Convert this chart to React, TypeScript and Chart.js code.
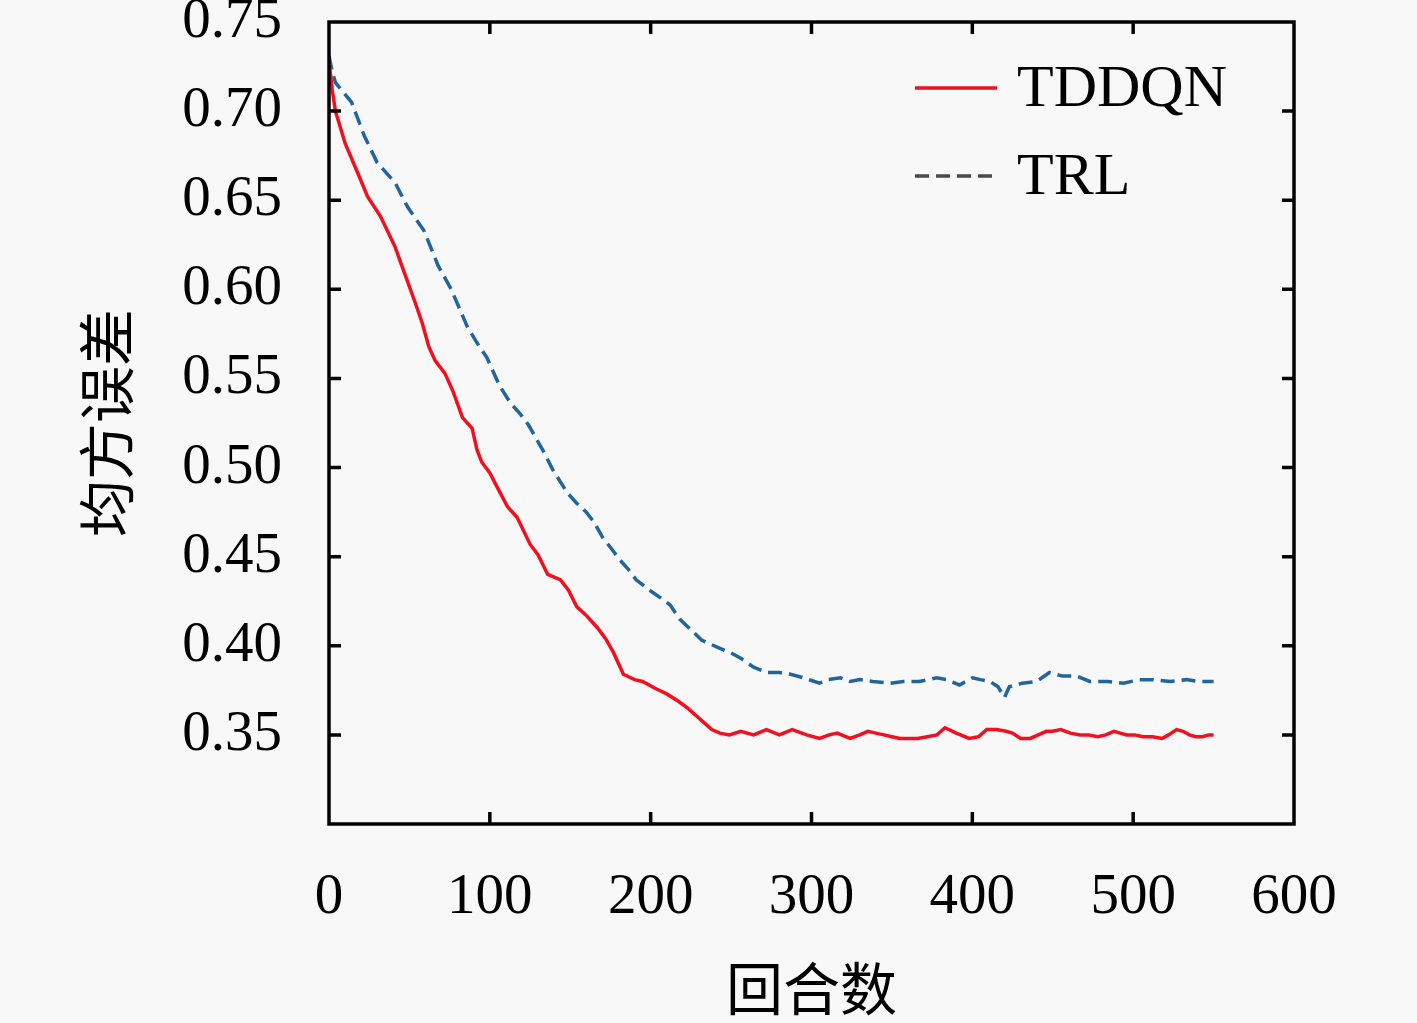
import { useRef, useEffect } from 'react'
import { Chart, registerables } from 'chart.js'
import type { Plugin } from 'chart.js'

Chart.register(...registerables)

// episode index (x) and mean squared error (y)
const tddqnX = [0, 2, 4, 10, 18, 24, 32, 41, 47, 53, 58, 62, 66, 72, 77, 83, 89, 92, 95, 100, 104, 111, 117, 125, 130, 136, 144, 149, 154, 160, 167, 172, 177, 183, 190, 195, 203, 210, 217, 223, 228, 233, 238, 243, 249, 256, 264, 272, 280, 288, 297, 305, 311, 316, 324, 330, 335, 340, 345, 350, 355, 360, 366, 372, 378, 383, 390, 398, 404, 409, 415, 421, 425, 430, 436, 441, 446, 450, 455, 461, 467, 472, 478, 483, 488, 492, 496, 501, 506, 512, 518, 522, 527, 531, 535, 539, 543, 547, 550]
const tddqnY = [0.728, 0.712, 0.700, 0.682, 0.665, 0.652, 0.641, 0.624, 0.609, 0.594, 0.581, 0.568, 0.560, 0.553, 0.543, 0.528, 0.522, 0.510, 0.503, 0.497, 0.490, 0.478, 0.472, 0.457, 0.451, 0.440, 0.437, 0.431, 0.422, 0.417, 0.410, 0.404, 0.396, 0.384, 0.381, 0.380, 0.376, 0.373, 0.369, 0.365, 0.361, 0.357, 0.353, 0.351, 0.350, 0.352, 0.350, 0.353, 0.350, 0.353, 0.350, 0.348, 0.350, 0.351, 0.348, 0.350, 0.352, 0.351, 0.350, 0.349, 0.348, 0.348, 0.348, 0.349, 0.350, 0.354, 0.351, 0.348, 0.349, 0.353, 0.353, 0.352, 0.351, 0.348, 0.348, 0.350, 0.352, 0.352, 0.353, 0.351, 0.350, 0.350, 0.349, 0.350, 0.352, 0.351, 0.350, 0.350, 0.349, 0.349, 0.348, 0.350, 0.353, 0.352, 0.350, 0.349, 0.349, 0.350, 0.350]

const trlX = [0, 2, 4, 14, 22, 30, 41, 49, 59, 68, 76, 86, 92, 98, 106, 113, 119, 124, 129, 134, 139, 148, 154, 160, 165, 170, 176, 181, 186, 191, 198, 206, 212, 218, 225, 232, 242, 250, 256, 264, 272, 280, 287, 295, 305, 310, 318, 324, 330, 338, 349, 357, 367, 378, 384, 392, 400, 405, 411, 416, 420, 423, 431, 440, 448, 456, 465, 473, 484, 494, 504, 512, 523, 533, 540, 550]
const trlY = [0.731, 0.722, 0.716, 0.705, 0.686, 0.671, 0.660, 0.646, 0.633, 0.613, 0.600, 0.579, 0.570, 0.562, 0.546, 0.536, 0.530, 0.524, 0.516, 0.508, 0.499, 0.486, 0.480, 0.475, 0.469, 0.461, 0.454, 0.448, 0.443, 0.437, 0.432, 0.427, 0.423, 0.415, 0.409, 0.403, 0.399, 0.396, 0.393, 0.388, 0.385, 0.385, 0.384, 0.382, 0.379, 0.381, 0.382, 0.380, 0.381, 0.380, 0.379, 0.380, 0.380, 0.382, 0.381, 0.378, 0.382, 0.381, 0.380, 0.377, 0.371, 0.377, 0.379, 0.380, 0.385, 0.383, 0.383, 0.380, 0.380, 0.379, 0.381, 0.381, 0.380, 0.381, 0.380, 0.380]

const seriesNames = ['TDDQN', 'TRL']
const xLabel = '回合数'
const yLabel = '均方误差'

const SERIF = '"Liberation Serif", "Times New Roman", serif'
const CJK = '"Noto Sans CJK SC", sans-serif'

// box around the plot plus inward ticks on all four sides
const frame: Plugin<'line'> = {
  id: 'frame',
  afterDatasetsDraw(chart) {
    const { ctx, chartArea: a, scales } = chart
    const len = 12
    ctx.save()
    ctx.strokeStyle = '#000'
    ctx.lineWidth = 3.5
    ctx.beginPath()
    scales.x.ticks.forEach(t => {
      const px = scales.x.getPixelForValue(t.value)
      if (px <= a.left + 1 || px >= a.right - 1) return
      ctx.moveTo(px, a.bottom); ctx.lineTo(px, a.bottom - len)
      ctx.moveTo(px, a.top); ctx.lineTo(px, a.top + len)
    })
    scales.y.ticks.forEach(t => {
      const py = scales.y.getPixelForValue(t.value)
      if (py <= a.top + 1 || py >= a.bottom - 1) return
      ctx.moveTo(a.left, py); ctx.lineTo(a.left + len, py)
      ctx.moveTo(a.right, py); ctx.lineTo(a.right - len, py)
    })
    ctx.stroke()
    ctx.strokeRect(a.left, a.top, a.right - a.left, a.bottom - a.top)
    ctx.restore()
  },
}

// legend drawn inside the top right corner
const insideLegend: Plugin<'line'> = {
  id: 'insideLegend',
  afterDraw(chart) {
    const { ctx, chartArea: a } = chart
    const x0 = a.right - 379
    const x1 = a.right - 297
    const tx = a.right - 277
    ctx.save()
    ctx.font = `60px ${SERIF}`
    ctx.textBaseline = 'middle'
    ctx.fillStyle = '#000'
    chart.data.datasets.forEach((ds: any, i) => {
      const y = a.top + 66 + i * 88
      ctx.strokeStyle = i === 1 ? '#4a4a4a' : ds.borderColor
      ctx.lineWidth = 3.5
      ctx.setLineDash(ds.borderDash || [])
      ctx.beginPath()
      ctx.moveTo(x0, y)
      ctx.lineTo(x1, y)
      ctx.stroke()
      ctx.setLineDash([])
      ctx.fillText(ds.label, tx, y + 2)
    })
    ctx.restore()
  },
}

export default function App() {
  const canvasRef = useRef<HTMLCanvasElement>(null)

  useEffect(() => {
    if (!canvasRef.current) return
    const chart = new Chart(canvasRef.current, {
      type: 'line',
      data: {
        datasets: [
          {
            label: seriesNames[0],
            data: tddqnX.map((x, i) => ({ x, y: tddqnY[i] })),
            borderColor: '#f01020',
            borderWidth: 3.5,
            pointRadius: 0,
            tension: 0,
          },
          {
            label: seriesNames[1],
            data: trlX.map((x, i) => ({ x, y: trlY[i] })),
            borderColor: '#22659e',
            borderWidth: 3.5,
            borderDash: [14, 7],
            pointRadius: 0,
            tension: 0,
          },
        ],
      },
      options: {
        responsive: false,
        animation: false,
        layout: { padding: { top: 22, right: 123, bottom: 0, left: 0 } },
        plugins: {
          legend: { display: false },
          tooltip: { enabled: false },
        },
        scales: {
          x: {
            type: 'linear',
            min: 0,
            max: 600,
            grid: { display: false, drawTicks: false },
            border: { display: false },
            ticks: {
              stepSize: 100,
              padding: 40,
              color: '#000',
              font: { family: SERIF, size: 57 },
              maxRotation: 0,
            },
            title: {
              display: true,
              text: xLabel,
              color: '#000',
              font: { family: CJK, size: 57 },
              padding: { top: 0, bottom: 0 },
            },
            afterFit(scale) {
              scale.height = 199
              scale.paddingLeft = 0
              scale.paddingRight = 0
            },
          },
          y: {
            min: 0.3,
            max: 0.75,
            grid: { display: false, drawTicks: false },
            border: { display: false },
            ticks: {
              stepSize: 0.05,
              padding: 47,
              color: '#000',
              font: { family: SERIF, size: 57 },
              callback: (v) => (Number(v) < 0.325 ? '' : Number(v).toFixed(2)),
            },
            title: {
              display: true,
              text: yLabel,
              color: '#000',
              font: { family: CJK, size: 57 },
              padding: { top: 72, bottom: 0 },
            },
            afterFit(scale) {
              scale.width = 329
              scale.paddingTop = 0
              scale.paddingBottom = 0
            },
          },
        },
      },
      plugins: [frame, insideLegend],
    })
    return () => chart.destroy()
  }, [])

  return (
    <div style={{ position: 'fixed', left: 0, top: 0, width: 1417, height: 1023, background: '#f8f8f8' }}>
      <canvas ref={canvasRef} width={1417} height={1023} />
    </div>
  )
}
